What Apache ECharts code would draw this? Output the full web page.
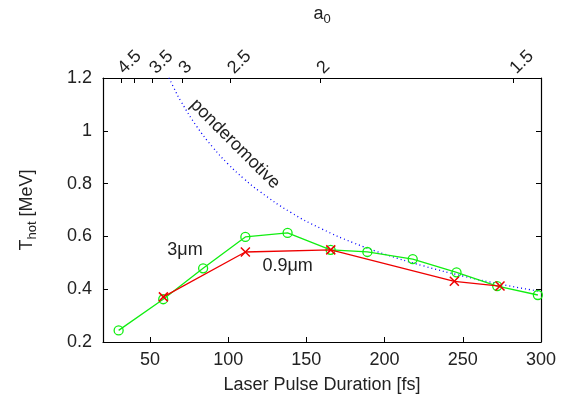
<!DOCTYPE html>
<html>
<head>
<meta charset="utf-8">
<script src="https://cdn.jsdelivr.net/npm/echarts@6/dist/echarts.min.js"></script>
<style>
  html, body { margin: 0; padding: 0; background: #fff; }
  #chart { width: 569px; height: 406px; }
</style>
</head>
<body>
<div id="chart"></div>
<script>
// 3um series
const pulse3um = [30, 58.5, 84, 111, 138, 165.5, 189, 218, 246, 272, 298];
const thot3um = [0.244, 0.362, 0.479, 0.598, 0.613, 0.549, 0.541, 0.514, 0.464, 0.412, 0.378];
// 0.9um series
const pulse09um = [58.6, 111, 165.6, 244.6, 273.8];
const thot09um = [0.371, 0.541, 0.549, 0.43, 0.412];
// ponderomotive curve
const pulsePond = [60, 65, 70, 80, 90, 100, 110, 120, 140, 160, 180, 200, 225, 250, 275, 300];
const thotPond = [1.228, 1.166, 1.11, 1.016, 0.939, 0.874, 0.819, 0.771, 0.691, 0.628, 0.576, 0.533, 0.488, 0.45, 0.418, 0.391];
// axes
const xTicks = [50, 100, 150, 200, 250, 300];
const a0Labels = ["4.5", "", "3.5", "3", "2.5", "2", "1.5"];
const a0Pulse = [31.35, 39.7, 51.8, 70.5, 101.6, 158.7, 282.1];
// text labels [pulse, Thot]
const label3um = [72.4, 0.548];
const label09um = [138, 0.489];
const labelPond = [104.4, 0.95];

const font = "Liberation Sans, Arial, sans-serif";
const ink = "#222";
const fs = 18;

const zip = (xs, ys) => xs.map((x, i) => [x, ys[i]]);

const myChart = echarts.init(document.getElementById("chart"));

const axisLine = { show: true, lineStyle: { color: "#000", width: 1.2 } };
const tick = { show: true, inside: true, length: 5, lineStyle: { color: "#000", width: 1 } };
const subRich = {
  m: { fontSize: fs, lineHeight: 24, color: ink, fontFamily: font },
  s: { fontSize: 13, lineHeight: 13, verticalAlign: "bottom", color: ink, fontFamily: font },
};

let option = {
  animation: false,
  grid: { left: 103, right: 28, top: 74, bottom: 64 },
  xAxis: [
    {
      type: "value",
      position: "bottom",
      min: 20,
      max: 300,
      axisLine: axisLine,
      axisTick: Object.assign({}, tick, { customValues: xTicks }),
      axisLabel: { customValues: xTicks, color: ink, fontSize: fs, fontFamily: font, margin: 9 },
      splitLine: { show: false },
      name: "Laser Pulse Duration [fs]",
      nameLocation: "middle",
      nameGap: 34,
      nameTextStyle: { color: ink, fontSize: fs, fontFamily: font },
    },
    {
      type: "value",
      position: "top",
      min: 20,
      max: 300,
      axisLine: axisLine,
      axisTick: Object.assign({}, tick, { customValues: a0Pulse }),
      axisLabel: {
        customValues: a0Pulse,
        rotate: -45,
        align: "left",
        verticalAlign: "middle",
        color: ink,
        fontSize: fs,
        fontFamily: font,
        margin: 7,
        formatter: (v) => {
          const i = a0Pulse.indexOf(v);
          return i >= 0 ? a0Labels[i] : "";
        },
      },
      splitLine: { show: false },
      name: "{m|a}{s|0}",
      nameLocation: "middle",
      nameGap: 52,
      nameTextStyle: { color: ink, fontFamily: font, rich: subRich },
    },
  ],
  yAxis: [
    {
      type: "value",
      position: "left",
      min: 0.2,
      max: 1.2,
      interval: 0.2,
      axisLine: axisLine,
      axisTick: tick,
      axisLabel: { color: ink, fontSize: fs, fontFamily: font, margin: 11 },
      splitLine: { show: false },
      name: "{m|T}{s|hot}{m| [MeV]}",
      nameLocation: "middle",
      nameGap: 64,
      nameTextStyle: { color: ink, fontFamily: font, rich: subRich },
    },
    {
      type: "value",
      position: "right",
      min: 0.2,
      max: 1.2,
      interval: 0.2,
      axisLine: axisLine,
      axisTick: tick,
      axisLabel: { show: false },
      splitLine: { show: false },
    },
  ],
  series: [
    {
      name: "ponderomotive",
      type: "line",
      data: zip(pulsePond, thotPond),
      smooth: true,
      showSymbol: false,
      clip: true,
      lineStyle: { color: "#0000ff", width: 1.3, type: [1, 3] },
      z: 1,
    },
    {
      name: "3um",
      type: "line",
      data: zip(pulse3um, thot3um),
      symbol: "circle",
      symbolSize: 9,
      lineStyle: { color: "#11ee11", width: 1.3 },
      itemStyle: { color: "rgba(0,0,0,0)", borderColor: "#11ee11", borderWidth: 1.3 },
      z: 2,
    },
    {
      name: "0.9um",
      type: "line",
      data: zip(pulse09um, thot09um),
      symbol: "path://M0,0L10,10M10,0L0,10",
      symbolSize: 9,
      lineStyle: { color: "#ee0000", width: 1.3 },
      itemStyle: { color: "rgba(0,0,0,0)", borderColor: "#ee0000", borderWidth: 1.5 },
      z: 3,
    },
  ],
};

myChart.setOption(option, true);

// text annotations placed through the chart's own scales
const p3 = myChart.convertToPixel({ gridIndex: 0 }, label3um);
const p09 = myChart.convertToPixel({ gridIndex: 0 }, label09um);
const pp = myChart.convertToPixel({ gridIndex: 0 }, labelPond);
const txt = { fill: ink, fontSize: fs, fontFamily: font, align: "center", verticalAlign: "middle" };
myChart.setOption({
  graphic: [
    { type: "text", x: p3[0], y: p3[1], style: Object.assign({ text: "3μm" }, txt) },
    { type: "text", x: p09[0], y: p09[1], style: Object.assign({ text: "0.9μm" }, txt) },
    { type: "text", x: pp[0], y: pp[1], rotation: -Math.PI / 4, style: Object.assign({ text: "ponderomotive" }, txt) },
  ],
});
</script>
</body>
</html>
